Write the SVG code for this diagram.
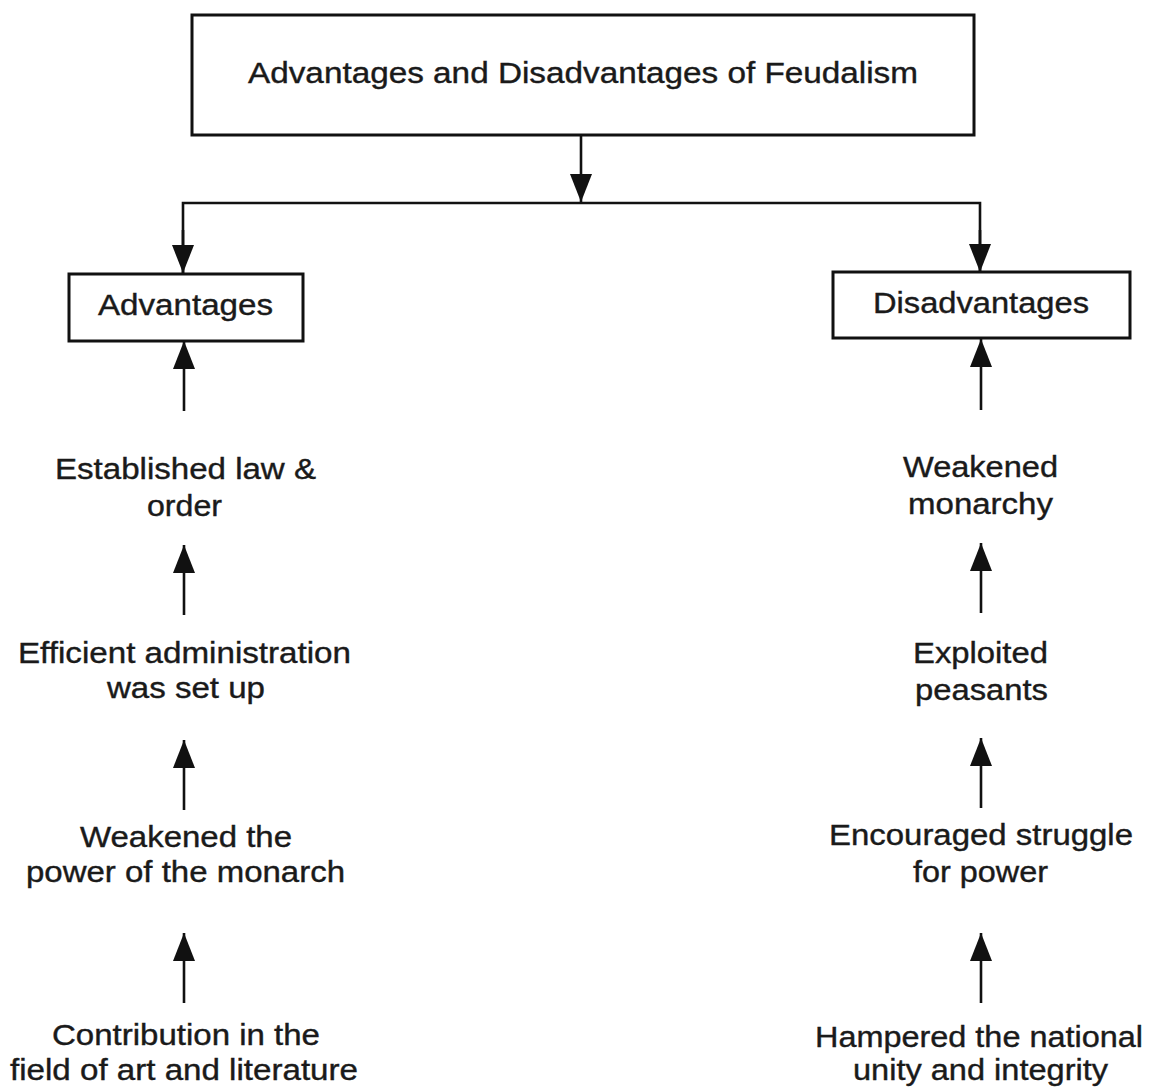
<svg xmlns="http://www.w3.org/2000/svg" width="1152" height="1087" viewBox="0 0 1152 1087">
<style>
.bg{fill:#ffffff}
.box{fill:#ffffff;stroke:#111111;stroke-width:3}
.t{font-family:"Liberation Sans",Arial,Helvetica,sans-serif;font-size:30px;fill:#1a1a1a;stroke:#1a1a1a;stroke-width:0.4}
.c{fill:none;stroke:#111111;stroke-width:2.6}
</style>
<defs>
<marker id="ah" markerUnits="userSpaceOnUse" viewBox="0 0 28 22" markerWidth="28" markerHeight="22" refX="28" refY="11" orient="auto">
<path d="M0,0 L28,11 L0,22 z" fill="#111111"/>
</marker>
</defs>
<rect class="bg" x="0" y="0" width="1152" height="1087"/>

<g id="connectors">
<line class="c" x1="581" y1="135" x2="581" y2="202" marker-end="url(#ah)"/>
<polyline class="c" points="183,273 183,203 980,203 980,272"/>
<line class="c" x1="183" y1="230" x2="183" y2="273" marker-end="url(#ah)"/>
<line class="c" x1="980" y1="230" x2="980" y2="272" marker-end="url(#ah)"/>
<line class="c" x1="184" y1="411" x2="184" y2="341" marker-end="url(#ah)"/>
<line class="c" x1="184" y1="615" x2="184" y2="545" marker-end="url(#ah)"/>
<line class="c" x1="184" y1="810" x2="184" y2="740" marker-end="url(#ah)"/>
<line class="c" x1="184" y1="1003" x2="184" y2="933" marker-end="url(#ah)"/>
<line class="c" x1="981" y1="410" x2="981" y2="339" marker-end="url(#ah)"/>
<line class="c" x1="981" y1="613" x2="981" y2="543" marker-end="url(#ah)"/>
<line class="c" x1="981" y1="808" x2="981" y2="738" marker-end="url(#ah)"/>
<line class="c" x1="981" y1="1003" x2="981" y2="933" marker-end="url(#ah)"/>
</g>

<g id="title">
<rect class="box" x="192" y="15" width="782" height="120"/>
<text class="t" x="248" y="83" textLength="670" lengthAdjust="spacingAndGlyphs">Advantages and Disadvantages of Feudalism</text>
</g>

<g id="advantages">
<rect class="box" x="69" y="274" width="234" height="67"/>
<text class="t" x="98" y="315" textLength="175" lengthAdjust="spacingAndGlyphs">Advantages</text>
</g>

<g id="disadvantages">
<rect class="box" x="833" y="272" width="297" height="66"/>
<text class="t" x="873" y="313" textLength="216" lengthAdjust="spacingAndGlyphs">Disadvantages</text>
</g>

<g id="law-order">
<text class="t" x="55" y="479" textLength="261" lengthAdjust="spacingAndGlyphs">Established law &amp;</text>
<text class="t" x="147" y="516" textLength="75" lengthAdjust="spacingAndGlyphs">order</text>
</g>

<g id="efficient-admin">
<text class="t" x="18" y="663" textLength="333" lengthAdjust="spacingAndGlyphs">Efficient administration</text>
<text class="t" x="107" y="698" textLength="158" lengthAdjust="spacingAndGlyphs">was set up</text>
</g>

<g id="weakened-power">
<text class="t" x="80" y="847" textLength="212" lengthAdjust="spacingAndGlyphs">Weakened the</text>
<text class="t" x="26" y="882" textLength="319" lengthAdjust="spacingAndGlyphs">power of the monarch</text>
</g>

<g id="contribution">
<text class="t" x="52" y="1045" textLength="268" lengthAdjust="spacingAndGlyphs">Contribution in the</text>
<text class="t" x="10" y="1080" textLength="348" lengthAdjust="spacingAndGlyphs">field of art and literature</text>
</g>

<g id="weakened-monarchy">
<text class="t" x="903" y="477" textLength="155" lengthAdjust="spacingAndGlyphs">Weakened</text>
<text class="t" x="908" y="514" textLength="145" lengthAdjust="spacingAndGlyphs">monarchy</text>
</g>

<g id="exploited">
<text class="t" x="913" y="663" textLength="135" lengthAdjust="spacingAndGlyphs">Exploited</text>
<text class="t" x="915" y="700" textLength="133" lengthAdjust="spacingAndGlyphs">peasants</text>
</g>

<g id="struggle">
<text class="t" x="829" y="845" textLength="304" lengthAdjust="spacingAndGlyphs">Encouraged struggle</text>
<text class="t" x="913" y="882" textLength="135" lengthAdjust="spacingAndGlyphs">for power</text>
</g>

<g id="hampered">
<text class="t" x="815" y="1047" textLength="328" lengthAdjust="spacingAndGlyphs">Hampered the national</text>
<text class="t" x="853" y="1080" textLength="255" lengthAdjust="spacingAndGlyphs">unity and integrity</text>
</g>
</svg>
